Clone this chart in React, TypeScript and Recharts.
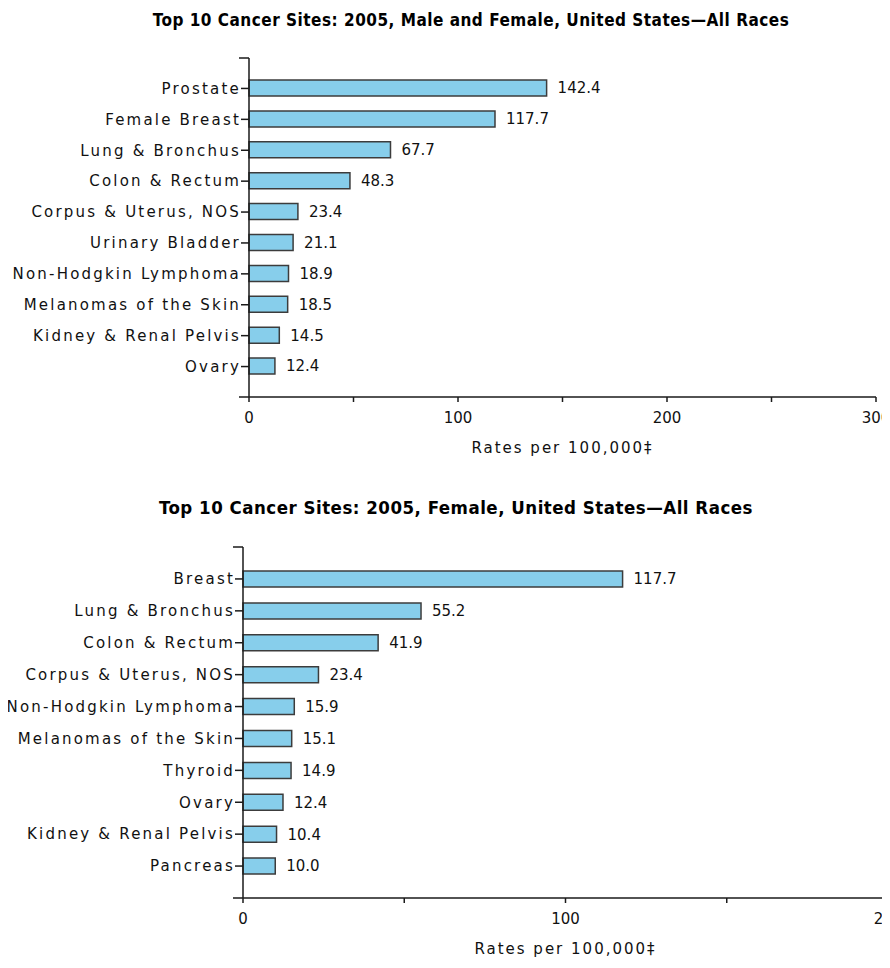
import React from "react";
import { BarChart, Bar, XAxis, YAxis, LabelList } from "recharts";

// Top chart: male and female combined
const allSites = [
  "Prostate",
  "Female Breast",
  "Lung & Bronchus",
  "Colon & Rectum",
  "Corpus & Uterus, NOS",
  "Urinary Bladder",
  "Non-Hodgkin Lymphoma",
  "Melanomas of the Skin",
  "Kidney & Renal Pelvis",
  "Ovary",
];
const allRates = [142.4, 117.7, 67.7, 48.3, 23.4, 21.1, 18.9, 18.5, 14.5, 12.4];
const allTicks = [0, 50, 100, 150, 200, 250, 300];

// Bottom chart: female only
const femaleSites = [
  "Breast",
  "Lung & Bronchus",
  "Colon & Rectum",
  "Corpus & Uterus, NOS",
  "Non-Hodgkin Lymphoma",
  "Melanomas of the Skin",
  "Thyroid",
  "Ovary",
  "Kidney & Renal Pelvis",
  "Pancreas",
];
const femaleRates = [117.7, 55.2, 41.9, 23.4, 15.9, 15.1, 14.9, 12.4, 10.4, 10.0];
const femaleTicks = [0, 50, 100, 150, 200];

const xLabel = "Rates per 100,000\u2021";

const FONT = "'DejaVu Sans', Verdana, sans-serif";
const INK = "#111";
const AXIS = "#1a1a1a";

interface PanelProps {
  title: string;
  titleCenter: number;
  titleY: number;
  titleSize: number;
  sites: string[];
  rates: number[];
  ticks: number[];
  top: number;
  width: number;
  height: number;
  margin: { top: number; right: number; bottom: number; left: number };
  yWidth: number;
  pad: number;
}

function Panel(p: PanelProps) {
  const data = p.sites.map((name, i) => ({ name, value: p.rates[i] }));
  const plotLeft = p.margin.left + p.yWidth;
  const plotTop = p.margin.top;
  const plotBottom = p.height - p.margin.bottom - 60;
  const max = p.ticks[p.ticks.length - 1];

  return (
    <div style={{ position: "absolute", left: 0, top: p.top, width: p.width, height: p.height }}>
      <div
        style={{
          position: "absolute",
          left: 0,
          top: p.titleY,
          width: p.titleCenter * 2,
          textAlign: "center",
          fontFamily: "'DejaVu Sans Condensed', 'DejaVu Sans', sans-serif",
          fontWeight: "bold",
          fontSize: p.titleSize,
          letterSpacing: 0.5,
          lineHeight: "20px",
          color: "#000",
          whiteSpace: "nowrap",
        }}
      >
        {p.title}
      </div>
      <BarChart
        width={p.width}
        height={p.height}
        data={data}
        layout="vertical"
        margin={p.margin}
      >
        <XAxis
          type="number"
          domain={[0, max]}
          ticks={p.ticks}
          interval={0}
          height={60}
          tickSize={5}
          tickMargin={10}
          tickFormatter={(v) => (v % 100 === 0 ? String(v) : "")}
          tick={{ fill: INK, fontSize: 15 }}
          axisLine={{ stroke: AXIS, strokeWidth: 1.5 }}
          tickLine={{ stroke: AXIS, strokeWidth: 1.5 }}
          label={{
            value: xLabel,
            position: "insideBottom",
            offset: 4,
            fill: INK,
            fontSize: 15,
            letterSpacing: 2,
          }}
        />
        <YAxis
          type="category"
          dataKey="name"
          width={p.yWidth}
          padding={{ top: p.pad, bottom: p.pad }}
          tickSize={8}
          tickMargin={0}
          interval={0}
          tick={{ fill: INK, fontSize: 15, letterSpacing: 2.2 }}
          axisLine={{ stroke: AXIS, strokeWidth: 1.5 }}
          tickLine={{ stroke: AXIS, strokeWidth: 1.5 }}
        />
        <Bar
          dataKey="value"
          fill="#87ceeb"
          stroke="#3c3c3c"
          strokeWidth={1.5}
          barSize={16}
          isAnimationActive={false}
        >
          <LabelList
            dataKey="value"
            position="right"
            offset={11}
            fill={INK}
            fontSize={15}
            formatter={(v: any) => Number(v).toFixed(1)}
          />
        </Bar>
      </BarChart>
      {/* axis corner details: top end tick and left stub of the x axis */}
      <svg
        width={p.width}
        height={p.height}
        style={{ position: "absolute", left: 0, top: 0, pointerEvents: "none" }}
      >
        <line x1={plotLeft - 10} y1={plotTop} x2={plotLeft} y2={plotTop} stroke={AXIS} strokeWidth={1.5} />
        <line x1={plotLeft - 10} y1={plotBottom} x2={plotLeft} y2={plotBottom} stroke={AXIS} strokeWidth={1.5} />
      </svg>
    </div>
  );
}

export default function App() {
  return (
    <div
      style={{
        position: "relative",
        width: 890,
        height: 968,
        margin: -8,
        overflow: "hidden",
        background: "#fff",
        fontFamily: FONT,
      }}
    >
      <Panel
        title="Top 10 Cancer Sites: 2005, Male and Female, United States—All Races"
        titleCenter={471}
        titleY={10}
        titleSize={17}
        sites={allSites}
        rates={allRates}
        ticks={allTicks}
        top={0}
        width={890}
        height={470}
        margin={{ top: 58, right: 14, bottom: 13, left: 0 }}
        yWidth={249}
        pad={15}
      />
      <Panel
        title="Top 10 Cancer Sites: 2005, Female, United States—All Races"
        titleCenter={456}
        titleY={18}
        titleSize={18.5}
        sites={femaleSites}
        rates={femaleRates}
        ticks={femaleTicks}
        top={480}
        width={900}
        height={488}
        margin={{ top: 67, right: 12, bottom: 10, left: 0 }}
        yWidth={243}
        pad={16}
      />
    </div>
  );
}
